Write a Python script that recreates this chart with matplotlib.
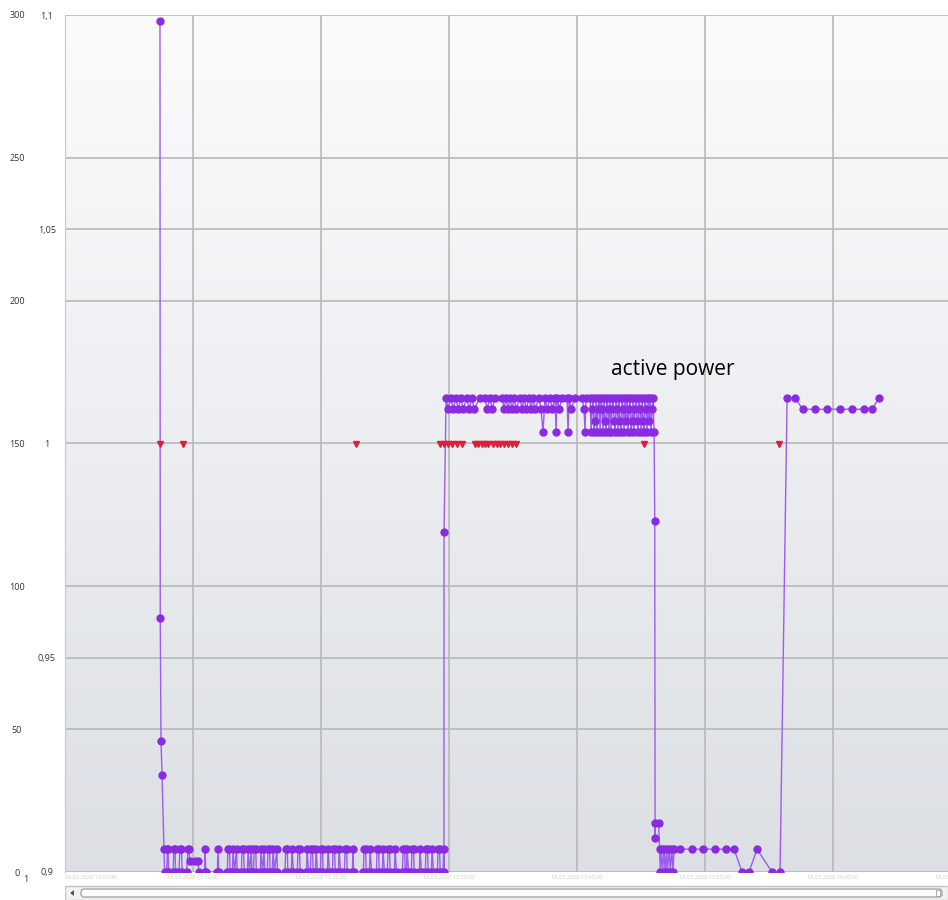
import numpy as np
import matplotlib
matplotlib.use("Agg")
import matplotlib.pyplot as plt
from matplotlib.patches import Rectangle, FancyBboxPatch, Polygon

plt.rcParams["font.family"] = ["Open Sans", "DejaVu Sans"]

# time axis in minutes from the left edge of the view, one grid cell = 10 min
startup_t = [7.42, 7.44, 7.50, 7.58]
startup_kw = [298, 89, 46, 34]

idle1_t = [7.73, 7.78, 7.95, 8.00, 8.05, 8.10, 8.45, 8.50, 8.59, 8.64, 8.90, 8.98, 9.10, 9.15, 9.50, 9.61, 9.68, 9.75, 10.16, 10.39, 10.45,
           10.90, 10.94, 11.00, 11.90, 11.95, 12.02, 12.68, 12.73, 12.85, 12.90, 13.08, 13.13, 13.25, 13.40, 13.45,
           13.78, 13.83, 13.95, 14.00, 14.25, 14.30, 14.42, 14.55, 14.60, 14.72, 14.77, 14.90, 14.95,
           15.26, 15.31, 15.43, 15.55, 15.60, 15.80, 15.86, 15.98, 16.03, 16.20, 16.25, 16.37, 16.55, 16.60,
           17.19, 17.24, 17.36, 17.41, 17.68, 17.73, 17.85, 18.15, 18.20, 18.32, 18.37, 18.86, 18.91, 19.03,
           19.17, 19.22, 19.34, 19.39, 19.56, 19.61, 19.73, 19.95, 20.00, 20.12, 20.17, 20.50, 20.55, 20.67,
           20.89, 20.94, 21.06, 21.11, 21.36, 21.41, 21.53, 21.83, 21.88, 22.00, 22.05, 22.45, 22.50, 22.55,
           23.31, 23.36, 23.48, 23.53, 23.78, 23.83, 23.95, 24.33, 24.38, 24.50, 24.55, 24.79, 24.84, 24.96,
           25.18, 25.23, 25.35, 25.40, 25.73, 25.78, 25.90, 26.36, 26.41, 26.53, 26.58, 26.67, 26.72, 26.84,
           27.06, 27.11, 27.23, 27.28, 27.68, 27.73, 27.85, 28.15, 28.20, 28.32, 28.37, 28.62, 28.67, 28.79,
           29.09, 29.14, 29.26, 29.31, 29.53, 29.58, 29.60]
idle1_kw = [8, 0, 0, 8, 8, 0, 0, 8, 8, 0, 0, 8, 8, 0, 0, 8, 8, 4, 4, 4, 0,
            0, 8, 0, 0, 8, 0, 0, 8, 8, 0, 0, 8, 0, 8, 0,
            0, 8, 8, 0, 0, 8, 0, 8, 0, 0, 8, 8, 0,
            0, 8, 0, 8, 0, 0, 8, 8, 0, 0, 8, 0, 8, 0,
            0, 8, 8, 0, 0, 8, 0, 0, 8, 8, 0, 0, 8, 0,
            0, 8, 8, 0, 0, 8, 0, 0, 8, 8, 0, 0, 8, 0,
            0, 8, 8, 0, 0, 8, 0, 0, 8, 8, 0, 0, 8, 0,
            0, 8, 8, 0, 0, 8, 0, 0, 8, 8, 0, 0, 8, 0,
            0, 8, 8, 0, 0, 8, 0, 0, 8, 8, 0, 0, 8, 0,
            0, 8, 8, 0, 0, 8, 0, 0, 8, 8, 0, 0, 8, 0,
            0, 8, 8, 0, 0, 8, 0]

run1_t = [29.61, 29.77, 29.92, 30.16, 30.31, 30.55, 30.70, 30.94, 31.09, 31.41, 31.56, 31.80, 31.95,
          32.42, 32.81, 32.97, 33.20, 33.36, 33.59, 34.14, 34.30, 34.45, 34.61, 34.77, 34.92, 35.08,
          35.23, 35.55, 35.70, 35.86, 36.02, 36.25, 36.41, 36.56, 36.72, 37.03, 37.19, 37.34, 37.50,
          37.66, 37.89, 38.05, 38.28, 38.36, 38.44, 38.59, 38.83, 39.22, 39.30, 39.38, 39.53, 39.84,
          40.39, 40.55, 40.62, 40.70]
run1_kw = [119, 166, 162, 166, 162, 166, 162, 166, 162, 166, 162, 166, 162,
           166, 166, 162, 166, 162, 166, 166, 162, 166, 162, 166, 162, 166,
           162, 166, 162, 166, 162, 166, 162, 166, 162, 166, 162, 154, 166,
           162, 166, 162, 166, 154, 166, 162, 166, 166, 154, 166, 162, 166,
           166, 162, 154, 166]

run2_t = [41.02, 41.10, 41.17, 41.25, 41.33, 41.41, 41.48, 41.56, 41.64, 41.72, 41.80, 41.88, 41.95,
          42.03, 42.11, 42.19, 42.27, 42.34, 42.42, 42.50, 42.58, 42.66, 42.73, 42.81, 42.89, 42.97,
          43.05, 43.13, 43.20, 43.28, 43.36, 43.44, 43.52, 43.59, 43.67, 43.75, 43.83, 43.91, 43.98,
          44.06, 44.14, 44.22, 44.30, 44.38, 44.45, 44.53, 44.61, 44.69, 44.77, 44.84, 44.92, 45.00,
          45.08, 45.16, 45.23, 45.31, 45.39, 45.47, 45.55, 45.63, 45.70, 45.78, 45.86, 45.94, 46.02]
run2_kw = [166, 154, 162, 166, 154, 158, 166, 154, 162, 166, 154, 166, 162,
           154, 166, 158, 154, 166, 162, 154, 166, 154, 162, 166, 158, 154,
           166, 162, 154, 166, 158, 154, 166, 162, 154, 166, 158, 166, 154,
           162, 166, 154, 158, 166, 154, 162, 166, 158, 154, 166, 162, 154,
           166, 158, 154, 166, 162, 154, 166, 158, 166, 154, 162, 166, 154]

idle2_t = [46.07, 46.10, 46.12, 46.37, 46.45, 46.50, 46.60, 46.68, 46.80, 46.88, 47.00, 47.05,
           47.20, 47.28, 47.40, 47.50, 47.58, 48.05, 48.96, 49.84, 50.76, 51.64, 52.27, 52.89,
           53.44, 54.06, 55.23, 55.86]
idle2_kw = [123, 12, 17, 17, 8, 0, 8, 0, 8, 0, 8, 0,
            8, 0, 8, 0, 8, 8, 8, 8, 8, 8, 8, 0,
            0, 8, 0, 0]

run3_t = [56.41, 57.03, 57.62, 58.59, 59.53, 60.55, 61.48, 62.42, 63.05, 63.59]
run3_kw = [166, 166, 162, 162, 162, 162, 162, 162, 162, 166]

# events on the secondary (0.9 .. 1.1) scale
event_t = [7.42, 9.22, 22.71, 29.30, 29.61, 29.92, 30.23, 30.63, 31.02,
           32.03, 32.27, 32.58, 32.81, 33.05, 33.44, 33.75, 33.98, 34.30, 34.61,
           34.92, 35.23, 45.23, 55.78]
event_val = [1.0] * len(event_t)

y_ticks = [0, 50, 100, 150, 200, 250, 300]
y2_ticks = [0.9, 0.95, 1.0, 1.05, 1.1]
y2_labels = ["0,9", "0,95", "1", "1,05", "1,1"]
x_ticks = [0, 10, 20, 30, 40, 50, 60, 70]
x_labels = ["16.03.2020 13:00:00", "16.03.2020 13:10:00", "16.03.2020 13:20:00",
            "16.03.2020 13:30:00", "16.03.2020 13:40:00", "16.03.2020 13:50:00",
            "16.03.2020 14:00:00", "16.03.2020 14:10:00"]

power_t = startup_t + idle1_t + run1_t + run2_t + idle2_t + run3_t
power_kw = startup_kw + idle1_kw + run1_kw + run2_kw + idle2_kw + run3_kw
assert len(power_t) == len(power_kw)

W, H = 948, 900
fig = plt.figure(figsize=(W / 100, H / 100), dpi=100)
fig.patch.set_facecolor("white")

ax = fig.add_axes([65 / W, 28 / H, (W - 65) / W, (872 - 15) / H])
x_max = 68.98
y2_min, y2_max = 0.9, 1.1

# soft vertical background gradient
grad = np.linspace(0, 1, 256).reshape(-1, 1)
cmap = matplotlib.colors.LinearSegmentedColormap.from_list("bg", ["#dcdfe3", "#eceef1", "#fbfbfc"])
ax.imshow(grad, extent=[0, x_max, 0, 300], origin="lower", aspect="auto", cmap=cmap, zorder=0)

ax.plot(power_t, power_kw, color="#9c5ced", lw=1.0, marker="o", ms=5,
        mfc="#8a2be2", mec="#8a2be2", zorder=3)

ax.set_xlim(0, x_max)
ax.set_ylim(0, 300)
ax.set_xticks(x_ticks[1:-1])
ax.set_xticklabels([])
ax.set_yticks(y_ticks)
ax.set_yticklabels([str(v) for v in y_ticks])
sec_as_primary = [(v - y2_min) / (y2_max - y2_min) * 300 for v in y2_ticks[1:-1]]
ax.set_yticks(sec_as_primary, minor=True)
ax.grid(True, which="both", color="#b8b8b8", lw=1.2, zorder=1)
ax.set_axisbelow(True)
ax.tick_params(axis="both", which="both", length=0)
ax.tick_params(axis="y", pad=34.5, labelsize=6.5, labelcolor="#333333")
for lbl in ax.get_yticklabels():
    lbl.set_horizontalalignment("center")
for side in ["top", "right", "bottom"]:
    ax.spines[side].set_visible(False)
ax.spines["left"].set_color("#c8c8c8")

ax2 = ax.twinx()
ax2.plot(event_t, event_val, linestyle="none", marker="v", ms=5,
         mfc="#e01e3c", mec="#e01e3c", zorder=4)
ax2.set_ylim(y2_min, y2_max)
ax2.set_yticks(y2_ticks)
ax2.set_yticklabels(y2_labels)
ax2.yaxis.set_ticks_position("left")
ax2.tick_params(axis="y", length=0, pad=13, labelsize=6.5, labelcolor="#333333",
                labelleft=True, labelright=False)
for lbl in ax2.get_yticklabels():
    lbl.set_horizontalalignment("center")
for side in ["top", "right", "bottom", "left"]:
    ax2.spines[side].set_visible(False)
ax2.set_xlim(0, x_max)

# faint timestamp labels under the plot; the first one starts at the plot edge
for i, (t, s) in enumerate(zip(x_ticks, x_labels)):
    ax.text(t, -0.006, s, transform=ax.get_xaxis_transform(),
            ha="left" if i == 0 else "center", va="center",
            fontsize=4, color="#cccccc", clip_on=False)

ax.text(47.5, 176, "active power", ha="center", va="center", fontsize=15, color="black", zorder=5)
fig.text(26 / W, 1 - 880 / H, "1", ha="center", va="center", fontsize=6.5, color="#333333")

# horizontal scroll bar
sb = fig.add_axes([65 / W, 0, (W - 65) / W, 15 / H])
sb.set_xlim(0, W - 65)
sb.set_ylim(0, 15)
sb.axis("off")
sb.add_patch(Rectangle((0, 0.5), W - 65, 13.5, facecolor="#f2f2f2", edgecolor="#c4c4c4", lw=1))
sb.add_patch(Polygon([[5, 7], [9, 10], [9, 4]], closed=True, facecolor="#555555", edgecolor="none"))
sb.add_patch(FancyBboxPatch((16, 3), W - 65 - 22, 8, boxstyle="round,pad=0,rounding_size=3",
                            facecolor="#fbfbfb", edgecolor="#a8a8a8", lw=1))
sb.add_patch(Rectangle((W - 65 - 12, 4), 4, 6, facecolor="none", edgecolor="#a0a0a0", lw=0.6))

fig.savefig("out.png", dpi=100)
